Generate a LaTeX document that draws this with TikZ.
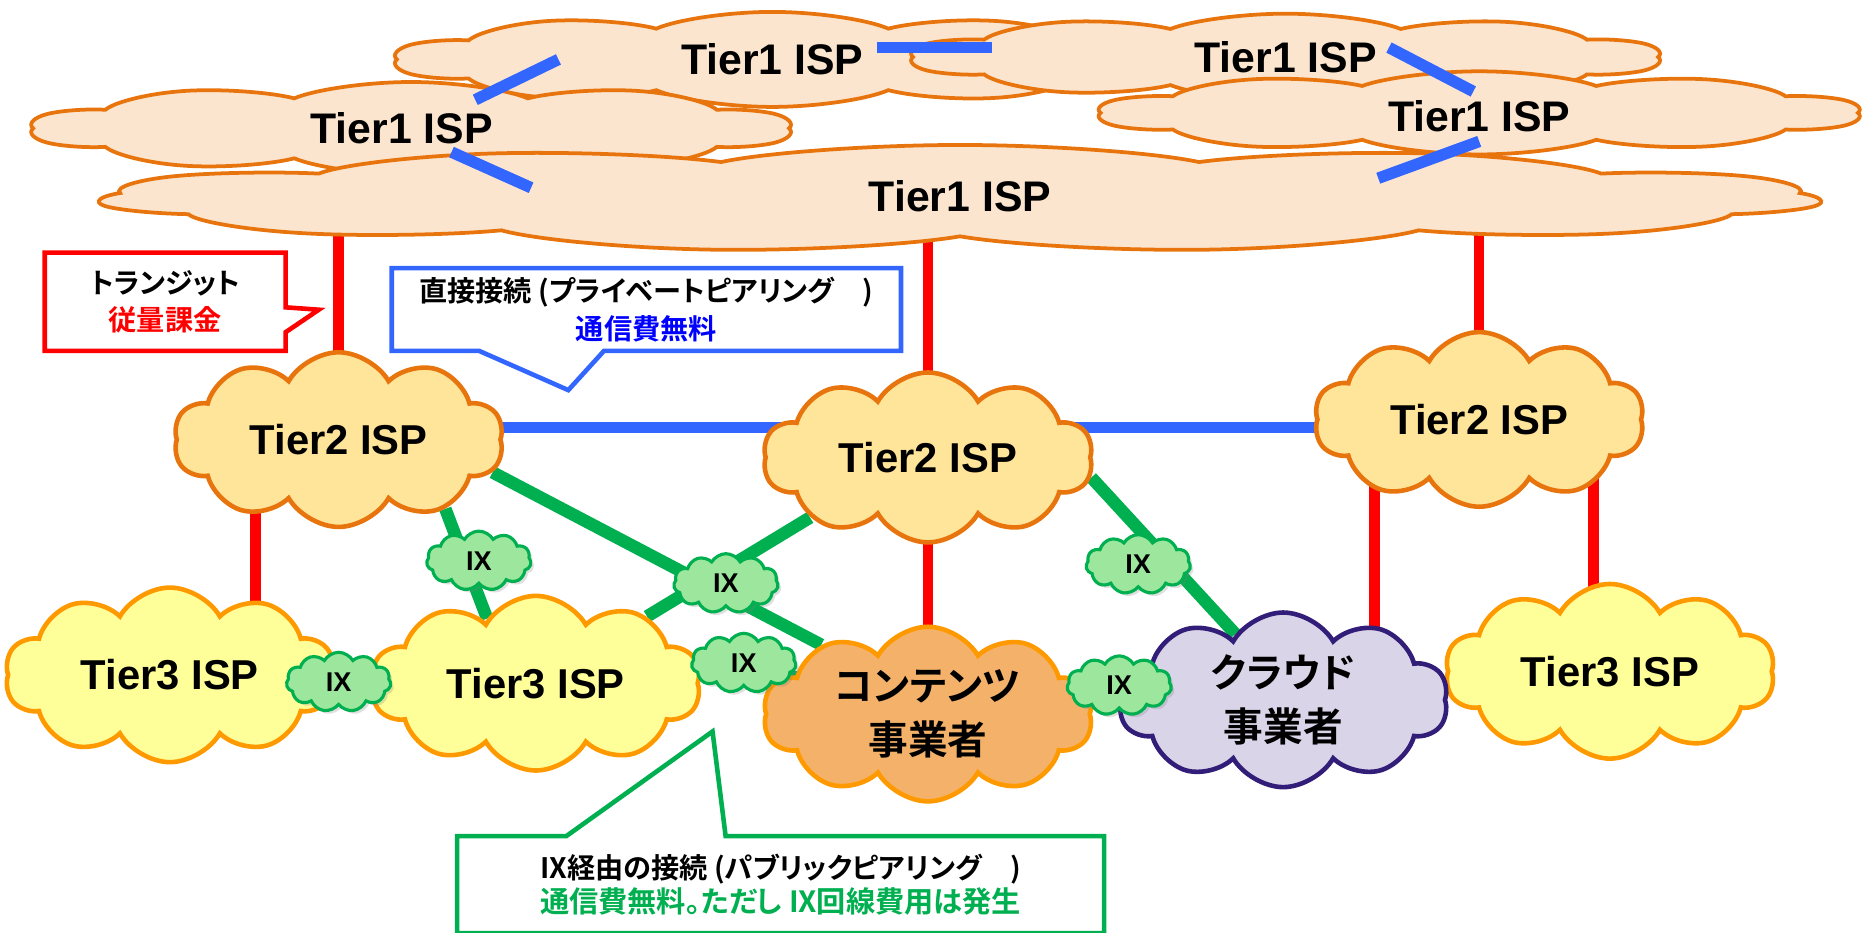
\documentclass[tikz,border=0pt]{standalone}
\usepackage{fontspec}
\setmainfont{Liberation Sans}
\newfontfamily\jpfont{Noto Sans CJK JP}[BoldFont={Noto Sans CJK JP Bold}, RawFeature=+palt]
\usetikzlibrary{shapes.symbols,backgrounds,shadows}
\usepackage{xcolor}
\definecolor{tieronefill}{RGB}{251,229,206}
\definecolor{tieroneline}{RGB}{232,116,14}
\definecolor{tiertwofill}{RGB}{255,229,153}
\definecolor{tierthreefill}{RGB}{255,255,153}
\definecolor{tierthreeline}{RGB}{255,153,0}
\definecolor{contentfill}{RGB}{244,177,106}
\definecolor{cloudfill}{RGB}{217,212,232}
\definecolor{cloudline}{RGB}{50,30,120}
\definecolor{ixfill}{RGB}{157,230,157}
\definecolor{ixgreen}{RGB}{0,176,80}
\definecolor{peerblue}{RGB}{51,102,255}
\definecolor{transitred}{RGB}{255,0,0}
\definecolor{textblue}{RGB}{0,0,255}
\tikzset{
  tieronecloud/.style={cloud, cloud puffs=10, cloud puff arc=120, cloud ignores aspect, transform shape, draw=tieroneline, fill=tieronefill, line width=1.8pt, inner sep=0pt},
  tieronelabel/.style={inner sep=0pt, font=\bfseries\fontsize{20.5}{24}\selectfont},
  ispcloud/.style={cloud, cloud puffs=10, cloud puff arc=120, cloud ignores aspect, line width=2.2pt, inner sep=0pt, align=center, minimum width=5.55cm, minimum height=2.94cm, font=\bfseries\fontsize{20}{24}\selectfont},
  tiertwo/.style={ispcloud, draw=tieroneline, fill=tiertwofill},
  tierthree/.style={ispcloud, draw=tierthreeline, fill=tierthreefill},
  operator/.style={ispcloud, font=\jpfont\bfseries\fontsize{19}{26}\selectfont},
  contents/.style={operator, draw=tierthreeline, fill=contentfill},
  provider/.style={operator, draw=cloudline, fill=cloudfill},
  ixcloud/.style={cloud, cloud puffs=11, cloud puff arc=120, cloud ignores aspect, draw=ixgreen, fill=ixfill, line width=1.5pt, inner sep=0pt, minimum width=1.76cm, minimum height=1cm, font=\bfseries\fontsize{13}{15}\selectfont, drop shadow={opacity=0.25, shadow xshift=1.5pt, shadow yshift=-1.5pt}},
  transit/.style={draw=transitred, line width=5pt},
  peer/.style={draw=peerblue, line width=5.5pt},
  ixlink/.style={draw=ixgreen, line width=6pt},
  notetext/.style={inner sep=0pt, align=center, font=\jpfont\bfseries\fontsize{13.5}{18}\selectfont},
  notebox/.style={fill=white, line width=2.2pt, line join=miter},
}

\begin{document}
\begin{tikzpicture}[x=0.02cm, y=-0.02cm]
\useasboundingbox (0,0) rectangle (1568,785);

% Tier1 backbone (round clouds stretched sideways)
\begin{scope}[shift={(650,50)}, xscale=4]
  \node[tieronecloud, minimum width=3.2cm, minimum height=1.6cm] (t1a) {};
\end{scope}
\node[tieronelabel] (t1alabel) at (t1a) {Tier1 ISP};
\begin{scope}[shift={(1082,48)}, xscale=4.35]
  \node[tieronecloud, minimum width=2.92cm, minimum height=1.46cm] (t1b) {};
\end{scope}
\node[tieronelabel] (t1blabel) at (t1b) {Tier1 ISP};
\begin{scope}[shift={(346,108)}, xscale=4.13]
  \node[tieronecloud, minimum width=3.12cm, minimum height=1.56cm] (t1c) {};
\end{scope}
\node[tieronelabel] (t1clabel) at (338,108) {Tier1 ISP};
\begin{scope}[shift={(1245,95)}, xscale=4.61]
  \node[tieronecloud, minimum width=2.8cm, minimum height=1.4cm] (t1d) {};
\end{scope}
\node[tieronelabel] (t1dlabel) at (1245,98) {Tier1 ISP};
\begin{scope}[shift={(808,167)}, xscale=8.08]
  \node[tieronecloud, cloud puffs=11, minimum width=3.6cm, minimum height=1.8cm] (t1e) {};
\end{scope}
\node[tieronelabel] (t1elabel) at (808,165) {Tier1 ISP};

\draw[peer] ([shift={(54,-24)}]t1c.center) -- ([shift={(-180,0)}]t1a.center);
\draw[peer] ([shift={(34,20)}]t1c.center) -- ([shift={(-361,-9)}]t1e.center);
\draw[peer] ([shift={(88,-10)}]t1a.center) -- ([shift={(-247,-8)}]t1b.center);
\draw[peer] ([shift={(87,-8)}]t1b.center) -- ([shift={(-5,-18)}]t1d.center);
\draw[peer] ([shift={(0,24)}]t1d.center) -- ([shift={(352,-17)}]t1e.center);

% Tier2
\node[tiertwo] (t2a) at (285,370) {Tier2 ISP};
\node[tiertwo, minimum height=2.86cm] (t2b) at (781,385) {Tier2 ISP};
\node[tiertwo] (t2c) at (1245,353) {Tier2 ISP};

% Tier3 and operators
\node[tierthree] (t3a) at (143,568) {Tier3 ISP};
\node[tierthree] (t3b) at (451,575) {Tier3 ISP};
\node[tierthree] (t3c) at (1355,565) {Tier3 ISP};
\node[contents] (cont) at (781,601) {コンテンツ\\事業者};
\node[provider] (cloudp) at (1080,589) {クラウド\\事業者};

% exchange points
\node[ixcloud] (ix1) at (403,472) {IX};
\node[ixcloud] (ix2) at (611,491) {IX};
\node[ixcloud] (ix3) at (285,574) {IX};
\node[ixcloud] (ix4) at (626,558) {IX};
\node[ixcloud] (ix5) at (958,475) {IX};
\node[ixcloud] (ix6) at (942,577) {IX};

% notes
\node[notetext, minimum width=4.04cm, minimum height=1.64cm] (transitnote) at (139,254) {トランジット\\\textcolor{transitred}{従量課金}};
\node[notetext, minimum width=8.56cm, minimum height=1.38cm] (peernote) at (544,260.5) {直接接続 (プライベートピアリング　)\\\textcolor{textblue}{通信費無料}};
\node[notetext, minimum width=10.88cm, minimum height=1.62cm, font=\jpfont\bfseries\fontsize{13.5}{16.5}\selectfont] (ixnote) at (657,744.5) {IX経由の接続 (パブリックピアリング　)\\\textcolor{ixgreen}{\fontsize{14}{16.5}\selectfont 通信費無料。ただし IX回線費用は発生}};

\begin{scope}[on background layer]
  % transit links
  \draw[transit] (t2a.center) -- (t2a.center |- t1e.center);
  \draw[transit] (t2b.center) -- (t2b.center |- t1e.center);
  \draw[transit] (t2c.center) -- (t2c.center |- t1e.center);
  \draw[transit] ([xshift=-1.4cm]t2a.center) -- ([xshift=-1.4cm]t2a.center |- t3a.center);
  \draw[transit] (cont.center) -- (cont.center |- t2b.center);
  \draw[transit] ([xshift=1.54cm]cloudp.center) -- ([xshift=1.54cm]cloudp.center |- t2c.center);
  \draw[transit] ([xshift=-0.28cm]t3c.center) -- ([xshift=-0.28cm]t3c.center |- t2c.center);
  % private peering
  \draw[peer] ([yshift=0.2cm]t2a.center) -- ([yshift=0.2cm]t2a.center -| t2c.center);
  % public peering
  \draw[ixlink] (t2a.-12) -- (cont.147);
  \draw[ixlink] (t2b.207) -- (t3b.31);
  \draw[ixlink] (t2a.-33) -- (t3b.127);
  \draw[ixlink] (t2b.-7) -- (cloudp.126);
  \draw[ixlink] (ix4.center) -- (cont.center);
  \draw[ixlink] (cont.center) -- (ix6.center);
  % note frames
  \draw[notebox, draw=transitred] (transitnote.north west) -- (transitnote.north east) -- ++(0,46) -- ++(28,2) -- ++(-28,19) -- (transitnote.south east) -- (transitnote.south west) -- cycle;
  \draw[notebox, draw=peerblue] (peernote.north west) -- (peernote.north east) -- (peernote.south east) -- ++(-250,0) -- ++(-30,33) -- ++(-75,-33) -- (peernote.south west) -- cycle;
  \draw[notebox, draw=ixgreen] (ixnote.south west) -- (ixnote.north west) -- ++(92,0) -- ++(123,-88) -- ++(11,88) -- (ixnote.north east) -- (ixnote.south east) -- cycle;
\end{scope}

\end{tikzpicture}
\end{document}
